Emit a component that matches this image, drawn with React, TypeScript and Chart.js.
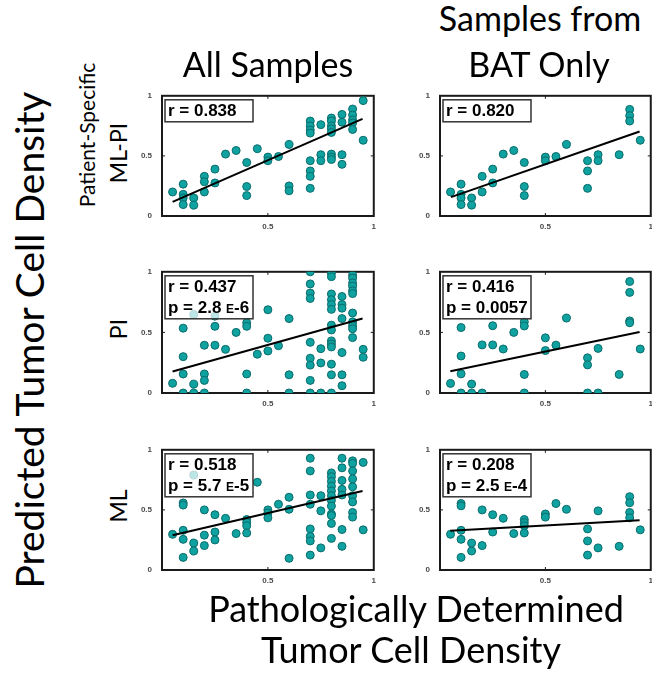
import React, { useEffect, useRef } from "react";
import { Chart, registerables } from "chart.js";
Chart.register(...registerables);

// ---------- data ----------
const tickValues = [0, 0.5, 1];
const yTickLabels = ["0", "0.5", "1"];
const xTickLabels = ["", "0.5", "1"];

const columnTitles = ["All Samples", "Samples from\nBAT Only"];
const rowTitles = ["ML-PI", "PI", "ML"];

// All samples, Patient-Specific ML-PI
const allMlpiX = [0.05, 0.1, 0.1, 0.1, 0.1, 0.15, 0.15, 0.2, 0.2, 0.2, 0.25, 0.25, 0.3, 0.35, 0.4, 0.4, 0.4, 0.45, 0.5, 0.5, 0.55, 0.6, 0.6, 0.6,
  0.7, 0.7, 0.7, 0.7, 0.7, 0.7, 0.7, 0.7, 0.75, 0.75, 0.75, 0.8, 0.8, 0.8, 0.8, 0.8, 0.8, 0.8, 0.8, 0.85, 0.85, 0.85, 0.85, 0.9, 0.9, 0.9, 0.9, 0.9, 0.95, 0.95];
const allMlpiY = [0.2, 0.265, 0.18, 0.15, 0.095, 0.15, 0.09, 0.33, 0.285, 0.2, 0.39, 0.275, 0.515, 0.545, 0.445, 0.245, 0.17, 0.56, 0.49, 0.46, 0.495, 0.595, 0.25, 0.21,
  0.79, 0.75, 0.715, 0.69, 0.46, 0.375, 0.33, 0.23, 0.76, 0.51, 0.46, 0.815, 0.79, 0.75, 0.725, 0.695, 0.515, 0.49, 0.47, 0.845, 0.78, 0.51, 0.43, 0.89, 0.84, 0.8, 0.775, 0.72, 0.96, 0.63];
const allMlpiFitX = [0.05, 0.947];
const allMlpiFitY = [0.118, 0.808];
const allMlpiStats = ["r = 0.838"];

// BAT only, Patient-Specific ML-PI
const batMlpiX = [0.05, 0.1, 0.1, 0.1, 0.1, 0.15, 0.15, 0.2, 0.2, 0.25, 0.25, 0.3, 0.35, 0.4, 0.4, 0.4, 0.5, 0.5, 0.55, 0.6, 0.7, 0.7, 0.7, 0.75, 0.75, 0.85, 0.9, 0.9, 0.9, 0.95];
const batMlpiY = [0.2, 0.265, 0.18, 0.15, 0.095, 0.15, 0.09, 0.33, 0.2, 0.39, 0.275, 0.515, 0.545, 0.445, 0.245, 0.17, 0.49, 0.46, 0.495, 0.595, 0.46, 0.375, 0.23, 0.51, 0.46, 0.51, 0.887, 0.835, 0.79, 0.63];
const batMlpiFitX = [0.052, 0.947];
const batMlpiFitY = [0.157, 0.703];
const batMlpiStats = ["r = 0.820"];

// All samples, PI
const allPiX = [0.05, 0.1, 0.1, 0.1, 0.1, 0.15, 0.15, 0.15, 0.2, 0.2, 0.2, 0.2, 0.25, 0.25, 0.25, 0.3, 0.35, 0.4, 0.4, 0.4, 0.4, 0.45, 0.5, 0.5, 0.5, 0.55, 0.6, 0.6, 0.6,
  0.7, 0.7, 0.7, 0.7, 0.7, 0.7, 0.7, 0.7, 0.7, 0.75, 0.75, 0.75,
  0.8, 0.8, 0.8, 0.8, 0.8, 0.8, 0.8, 0.8, 0.8, 0.8, 0.8, 0.8, 0.8, 0.8,
  0.85, 0.85, 0.85, 0.85, 0.85, 0.85, 0.85,
  0.9, 0.9, 0.9, 0.9, 0.9, 0.9, 0.9, 0.9, 0.9, 0.9, 0.9, 0.95, 0.95];
const allPiY = [0.08, 0.535, 0.3, 0.157, 0, 0.073, 0, 0.648, 0.394, 0.157, 0.104, 0, 0.634, 0.55, 0.394, 0.36, 0.5, 0.58, 0.55, 0.157, 0, 0.32, 0.687, 0.452, 0.347, 0.39, 0.614, 0.15, 0,
  1.0, 0.9, 0.825, 0.78, 0.418, 0.287, 0.23, 0.104, 0, 0.366, 0.248, 0,
  0.99, 0.96, 0.817, 0.77, 0.73, 0.69, 0.56, 0.52, 0.43, 0.405, 0.38, 0.238, 0.15, 0,
  0.796, 0.73, 0.7, 0.614, 0.334, 0.15, 0.06,
  0.974, 0.948, 0.908, 0.88, 0.843, 0.82, 0.66, 0.587, 0.556, 0.53, 0.457, 0.36, 0.295];
const allPiFitX = [0.05, 0.947];
const allPiFitY = [0.178, 0.614];
const allPiStats = ["r = 0.437", "p = 2.8 E-6"];

// BAT only, PI
const batPiX = [0.05, 0.1, 0.1, 0.1, 0.1, 0.15, 0.15, 0.2, 0.2, 0.25, 0.25, 0.3, 0.35, 0.4, 0.4, 0.4, 0.4, 0.5, 0.5, 0.55, 0.6, 0.7, 0.7, 0.7, 0.75, 0.75, 0.85, 0.9, 0.9, 0.9, 0.9, 0.95];
const batPiY = [0.079, 0.54, 0.305, 0.158, 0, 0.074, 0, 0.397, 0, 0.555, 0.397, 0.363, 0.5, 0.587, 0.553, 0.153, 0, 0.455, 0.35, 0.395, 0.618, 0.29, 0.232, 0, 0.368, 0, 0.153, 0.92, 0.83, 0.595, 0.58, 0.363];
const batPiFitX = [0.049, 0.947];
const batPiFitY = [0.179, 0.503];
const batPiStats = ["r = 0.416", "p = 0.0057"];

// All samples, ML
const allMlX = [0.05, 0.1, 0.1, 0.1, 0.1, 0.1, 0.15, 0.15, 0.15, 0.2, 0.2, 0.2, 0.25, 0.25, 0.25, 0.3, 0.35, 0.4, 0.4, 0.4, 0.4, 0.45, 0.5, 0.5, 0.5, 0.55, 0.6, 0.6, 0.6,
  0.7, 0.7, 0.7, 0.7, 0.7, 0.7, 0.7, 0.7, 0.75, 0.75, 0.75,
  0.8, 0.8, 0.8, 0.8, 0.8, 0.8, 0.8, 0.8, 0.8, 0.8, 0.8, 0.8,
  0.85, 0.85, 0.85, 0.85, 0.85, 0.85, 0.85,
  0.9, 0.9, 0.9, 0.9, 0.9, 0.9, 0.9, 0.9, 0.9, 0.95, 0.95];
const allMlY = [0.297, 0.558, 0.54, 0.33, 0.255, 0.105, 0.79, 0.224, 0.158, 0.5, 0.29, 0.203, 0.46, 0.316, 0.25, 0.43, 0.303, 0.42, 0.395, 0.368, 0.308, 0.73, 0.5, 0.474, 0.434, 0.547, 0.605, 0.505, 0.097,
  0.93, 0.824, 0.624, 0.547, 0.342, 0.28, 0.242, 0.124, 0.618, 0.492, 0.184,
  0.808, 0.776, 0.737, 0.697, 0.658, 0.618, 0.579, 0.532, 0.466, 0.453, 0.387, 0.263,
  0.93, 0.85, 0.745, 0.671, 0.624, 0.337, 0.197,
  0.908, 0.887, 0.824, 0.758, 0.692, 0.618, 0.566, 0.479, 0.44, 0.895, 0.334];
const allMlFitX = [0.05, 0.947];
const allMlFitY = [0.289, 0.658];
const allMlStats = ["r = 0.518", "p = 5.7 E-5"];

// BAT only, ML
const batMlX = [0.05, 0.1, 0.1, 0.1, 0.1, 0.1, 0.15, 0.15, 0.2, 0.2, 0.25, 0.25, 0.3, 0.35, 0.4, 0.4, 0.4, 0.4, 0.5, 0.5, 0.55, 0.6, 0.7, 0.7, 0.7, 0.75, 0.75, 0.85, 0.9, 0.9, 0.9, 0.9, 0.95];
const batMlY = [0.297, 0.553, 0.534, 0.33, 0.255, 0.105, 0.224, 0.158, 0.5, 0.203, 0.46, 0.316, 0.43, 0.303, 0.42, 0.395, 0.368, 0.308, 0.466, 0.44, 0.553, 0.505, 0.342, 0.242, 0.124, 0.492, 0.184, 0.197, 0.61, 0.56, 0.479, 0.434, 0.334];
const batMlFitX = [0.049, 0.947];
const batMlFitY = [0.326, 0.413];
const batMlStats = ["r = 0.208", "p = 2.5 E-4"];

// ---------- layout ----------
const COL_LEFT = [162, 440];
const COL_W = [212, 211];
const ROW_TOP = [89, 265, 443];
const ROW_H = [127, 128, 127];
const Y_AXIS_W = 30;
const X_AXIS_H = 22;
const PAD = 8;

const POINT_FILL = "#0fa2a0";
const POINT_EDGE = "#0a6b6a";
const LABEL_FONT = "Lato, 'Open Sans', sans-serif";

const framePlugin = {
  id: "frame",
  beforeDatasetsDraw(chart: any) {
    const { ctx, chartArea: a, scales } = chart;
    ctx.save();
    ctx.strokeStyle = "#1a1a1a";
    ctx.lineWidth = 2;
    ctx.strokeRect(a.left, a.top, a.right - a.left, a.bottom - a.top);
    ctx.lineWidth = 1;
    const xm = scales.x.getPixelForValue(0.5);
    const ym = scales.y.getPixelForValue(0.5);
    ctx.beginPath();
    ctx.moveTo(xm, a.bottom); ctx.lineTo(xm, a.bottom - 3);
    ctx.moveTo(xm, a.top); ctx.lineTo(xm, a.top + 3);
    ctx.moveTo(a.left, ym); ctx.lineTo(a.left + 3, ym);
    ctx.moveTo(a.right, ym); ctx.lineTo(a.right - 3, ym);
    ctx.stroke();
    ctx.restore();
  },
  afterDatasetsDraw(chart: any) {
    const lines: string[] = chart.options.plugins.frame.stats || [];
    if (!lines.length) return;
    const { ctx, chartArea: a } = chart;
    const big = "bold 17px 'Liberation Sans', Arial, sans-serif";
    const small = "bold 12px 'Liberation Sans', Arial, sans-serif";
    ctx.save();
    const segs = lines.map((ln) => {
      const i = ln.indexOf(" E");
      if (i < 0) return [{ t: ln, f: big }];
      return [
        { t: ln.slice(0, i + 1), f: big },
        { t: "E", f: small },
        { t: ln.slice(i + 2), f: big },
      ];
    });
    let maxW = 0;
    segs.forEach((s) => {
      let w = 0;
      s.forEach((p) => { ctx.font = p.f; w += ctx.measureText(p.t).width; });
      maxW = Math.max(maxW, w);
    });
    const bx = a.left + 3;
    const by = a.top + 4;
    const bw = Math.max(maxW + 6, 88);
    const bh = 1 + lines.length * 21;
    ctx.fillStyle = "rgba(255,255,255,0.72)";
    ctx.fillRect(bx, by, bw, bh);
    ctx.strokeStyle = "#333";
    ctx.lineWidth = 1.5;
    ctx.strokeRect(bx, by, bw, bh);
    ctx.fillStyle = "#000";
    ctx.textBaseline = "alphabetic";
    ctx.textAlign = "left";
    segs.forEach((s, li) => {
      let x = bx + 3;
      const y = by + 16.5 + li * 21;
      s.forEach((p) => {
        ctx.font = p.f;
        ctx.fillText(p.t, x, y);
        x += ctx.measureText(p.t).width;
      });
    });
    ctx.restore();
  },
};

const tickFont = { family: "'Liberation Sans', Arial, sans-serif", size: 8, weight: "bold" as const };

function Panel(props: { left: number; top: number; w: number; h: number; xs: number[]; ys: number[]; fx: number[]; fy: number[]; stats: string[] }) {
  const ref = useRef<HTMLCanvasElement>(null);
  const { left, top, w, h, xs, ys, fx, fy, stats } = props;
  const cw = Y_AXIS_W + w + PAD;
  const ch = PAD + h + X_AXIS_H;
  useEffect(() => {
    const chart = new Chart(ref.current as HTMLCanvasElement, {
      type: "scatter",
      data: {
        datasets: [
          {
            type: "line",
            data: fx.map((x, i) => ({ x, y: fy[i] })),
            borderColor: "#000",
            borderWidth: 2,
            pointRadius: 0,
            fill: false,
            order: 0,
          } as any,
          {
            data: xs.map((x, i) => ({ x, y: ys[i] })),
            backgroundColor: POINT_FILL,
            borderColor: POINT_EDGE,
            borderWidth: 1,
            pointRadius: 4,
            order: 1,
          },
        ],
      },
      options: {
        animation: false,
        responsive: false,
        maintainAspectRatio: false,
        events: [],
        layout: { padding: { top: PAD, right: PAD, left: 0, bottom: 0 } },
        plugins: { legend: { display: false }, tooltip: { enabled: false }, frame: { stats } } as any,
        scales: {
          x: {
            type: "linear",
            min: 0,
            max: 1,
            grid: { display: false, drawTicks: false },
            border: { display: false },
            afterBuildTicks: (s: any) => { s.ticks = tickValues.map((v) => ({ value: v })); },
            afterFit: (s: any) => { s.height = X_AXIS_H; },
            ticks: { callback: (_v: any, i: number) => xTickLabels[i], font: tickFont, color: "#4a4a4a", padding: 6, maxRotation: 0, autoSkip: false },
          },
          y: {
            type: "linear",
            min: 0,
            max: 1,
            grid: { display: false, drawTicks: false },
            border: { display: false },
            afterBuildTicks: (s: any) => { s.ticks = tickValues.map((v) => ({ value: v })); },
            afterFit: (s: any) => { s.width = Y_AXIS_W; },
            ticks: { callback: (_v: any, i: number) => yTickLabels[i], font: tickFont, color: "#4a4a4a", padding: 10, autoSkip: false },
          },
        },
      },
      plugins: [framePlugin],
    } as any);
    return () => chart.destroy();
  }, []);
  return (
    <canvas
      ref={ref}
      width={cw}
      height={ch}
      style={{ position: "absolute", left: left - Y_AXIS_W, top: top - PAD, width: cw, height: ch }}
    />
  );
}

function Label(props: { text: string; x: number; y: number; size: number; rotate?: boolean }) {
  return (
    <div
      style={{
        position: "absolute",
        left: props.x,
        top: props.y,
        transform: `translate(-50%, -50%)${props.rotate ? " rotate(-90deg)" : ""}`,
        fontFamily: LABEL_FONT,
        fontSize: props.size,
        lineHeight: 1,
        whiteSpace: "nowrap",
        color: "#000",
      }}
    >
      {props.text}
    </div>
  );
}

const panels = [
  { r: 0, c: 0, xs: allMlpiX, ys: allMlpiY, fx: allMlpiFitX, fy: allMlpiFitY, stats: allMlpiStats },
  { r: 0, c: 1, xs: batMlpiX, ys: batMlpiY, fx: batMlpiFitX, fy: batMlpiFitY, stats: batMlpiStats },
  { r: 1, c: 0, xs: allPiX, ys: allPiY, fx: allPiFitX, fy: allPiFitY, stats: allPiStats },
  { r: 1, c: 1, xs: batPiX, ys: batPiY, fx: batPiFitX, fy: batPiFitY, stats: batPiStats },
  { r: 2, c: 0, xs: allMlX, ys: allMlY, fx: allMlFitX, fy: allMlFitY, stats: allMlStats },
  { r: 2, c: 1, xs: batMlX, ys: batMlY, fx: batMlFitX, fy: batMlFitY, stats: batMlStats },
];

export default function App() {
  const [t1a, t1b] = columnTitles[1].split("\n");
  return (
    <div style={{ position: "fixed", left: 0, top: 0, width: 652, height: 673, overflow: "hidden", background: "#fff" }}>
      {panels.map((p, i) => (
        <Panel key={i} left={COL_LEFT[p.c]} top={ROW_TOP[p.r]} w={COL_W[p.c]} h={ROW_H[p.r]} xs={p.xs} ys={p.ys} fx={p.fx} fy={p.fy} stats={p.stats} />
      ))}
      <Label text={columnTitles[0]} x={268} y={64} size={34} />
      <Label text={t1a} x={540} y={18} size={34} />
      <Label text={t1b} x={539} y={64} size={34} />
      <Label text="Predicted Tumor Cell Density" x={29} y={340} size={39} rotate />
      <Label text="Patient-Specific" x={86} y={135} size={21} rotate />
      <Label text={rowTitles[0]} x={118} y={153} size={23} rotate />
      <Label text={rowTitles[1]} x={118} y={329} size={23} rotate />
      <Label text={rowTitles[2]} x={118} y={506} size={23} rotate />
      <Label text="Pathologically Determined" x={416} y={608} size={36} />
      <Label text="Tumor Cell Density" x={411} y={649} size={36} />
    </div>
  );
}
